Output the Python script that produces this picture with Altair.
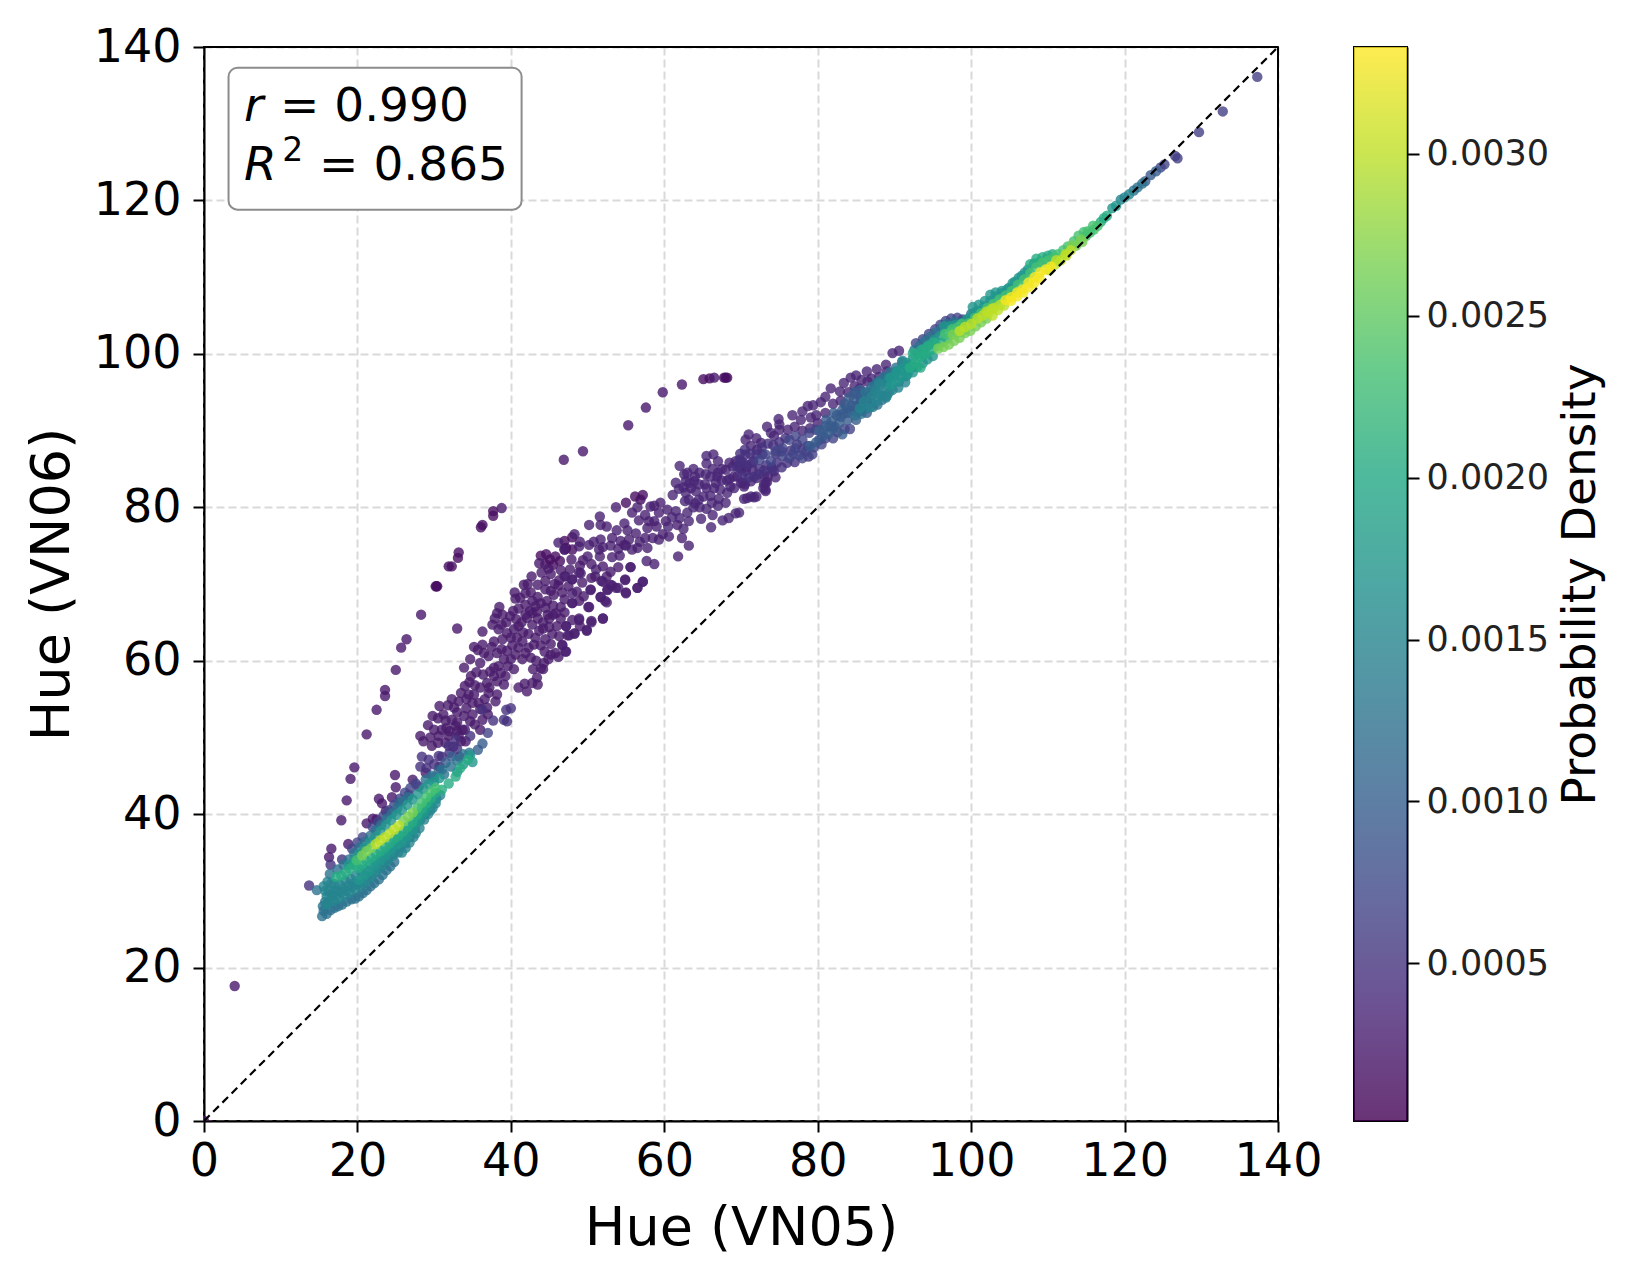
import altair as alt
import pandas as pd

arc_dark = [(0,0),(30.3,69.7),(30.4,69.7),(30.2,69.7),(36.1,77.4),(36.3,77.7),(37.7,78.9),(37.7,79.5),
            (65.9,96.8),(67.8,96.9),(68.0,96.9),(68.2,96.9),(65.1,96.7),(44.5,72.6),(45.1,73.2),(45.5,72.5),(44.6,73.9),
            (46.4,73.0),(45.8,73.6),(43.9,73.7),(47.0,74.5),(47.2,74.7),(48.0,74.5),(47.0,75.6),(48.0,76.1),
            (56.2,81.4),(56.9,81.0),(57.2,81.6),(55.0,80.6),(31.9,72.3),(32.3,72.3),(33.1,73.4),(33.2,74.1)]
arc_low = [(21.2,50.4),(22.5,53.6),(23.6,55.4),(23.6,56.2),(25.0,58.8),(25.7,61.7),(26.4,62.8),(28.3,66.0),
           (38.8,79.9),(33.0,64.2),(46.9,86.2),(49.4,87.3),(55.3,90.7),(57.6,93.0),(59.8,95.0),(62.3,96.0),
           (66.5,96.9),(19.6,46.1),(19.1,44.6),(18.6,41.8),(17.9,39.2),(24.9,45.1),(25.0,43.5),(22.8,42.0),
           (23.2,41.4),(24.5,42.2),(23.7,40.4),(22.5,39.3),(22.0,39.4),(21.2,38.8),(18.8,36.1),(16.6,35.5),
           (16.3,34.4),(4.0,17.6)]
cloud_a = [(36.3,63.8),(38.2,66.2),(37.9,65.5),(37.6,64.7),(38.4,64.1),(40.3,66.5),(40.5,68.9),(40.6,68.1),
           (41.7,69.9),(42.7,71.0),(42.6,68.9),(41.9,67.3),(43.2,67.1),(43.9,67.5),(45.2,69.1),(44.5,69.3),
           (45.6,68.6),(46.7,68.9),(47.1,71.0),(48.0,70.6),(48.9,71.5),(49.3,70.2),(50.4,69.3),(51.8,70.4),
           (53.0,69.9),(52.6,69.3),(53.7,69.5),(54.9,70.6),(55.0,68.9),(56.5,69.5),(57.2,70.3),(55.6,72.2),
           (51.7,68.3),(52.3,67.8),(48.0,67.5),(50.2,67.0),(48.9,65.5),(50.5,65.2),(52.0,65.5),(49.9,64.0),
           (47.2,64.5),(47.6,63.3),(48.3,63.5),(45.4,63.5),(44.5,62.8),(45.2,62.2),(46.7,62.0),(47.1,61.2),
           (45.8,61.0),(44.9,60.2),(44.3,59.7),(44.2,58.9),(43.4,57.8),(42.8,57.1),(42.1,56.0),(41.0,56.5),
           (43.2,63.0),(43.0,62.1),(43.7,63.9),(41.0,64.5),(40.4,64.1),(42.1,65.6),(42.8,66.2),(44.5,66.9),
           (41.0,61.7),(41.9,61.0),(40.6,60.8),(41.5,60.2),(42.6,60.4),(42.3,61.7),(38.9,62.8),(37.8,62.5),
           (36.3,62.1),(35.2,61.8),(35.7,61.4),(34.7,60.2),(33.9,59.1),(36.0,59.7),(37.1,60.6),(38.2,61.0),
           (37.8,59.1),(38.4,59.3),(37.3,58.6),(39.3,58.0),(40.4,58.9),(40.0,60.2),(39.1,60.2),(38.2,57.3),
           (39.1,56.9),(36.9,57.1),(34.6,57.2),(36.0,56.5),(35.2,55.6),(34.5,55.6),(37.1,55.8),(38.2,55.6),
           (38.0,54.7),(35.8,54.5),(36.9,53.9),(35.0,54.5),(33.2,54.7),(32.6,53.9),(30.7,54.1),(35.0,53.0),
           (33.9,52.8),(36.3,52.3),(32.3,52.3),(32.8,51.5),(34.7,52.1),(33.7,51.0),(31.0,51.0),(30.6,50.2),
           (29.2,51.6),(31.9,50.2),(33.2,50.2),(29.7,48.9),(28.2,50.2),(38.8,64.7),(39.5,63.6),(41.5,62.5),
           (40.0,63.0),(42.3,63.5),(42.8,64.7),(43.5,65.5),(44.2,65.0),(45.0,65.5),(44.7,67.8),(43.5,68.3),
           (42.8,67.8),(41.9,66.0),(41.0,66.8),(45.5,67.2),(46.5,67.0),(47.0,66.3),(46.0,64.5),(34.0,51.0),
           (35.3,51.7),(36.0,51.0),(33.0,52.0),(31.5,52.2),(30.5,52.5),(29.8,52.8),(32.0,50.8),(29.5,50.0),
           (28.6,49.5),(30.5,49.3),(31.5,49.3),(32.5,48.8),(33.5,49.5),(34.1,49.5),(27.2,44.5),(28.9,45.4),(30.7,46.2)]
cloud_a2 = [(30.0,51.0),(31.2,53.0),(31.8,54.2),(32.3,55.0),(33.0,53.3),(33.5,55.8),(34.0,56.7),(34.8,58.0),
            (34.2,53.8),(35.5,58.5),(35.3,56.8),(36.4,58.2),(36.6,55.0),(37.2,56.5),(37.0,53.0),(37.8,58.0),
            (38.7,58.4),(39.6,59.3),(36.5,61.0),(37.5,61.8),(38.8,61.5),(39.5,61.3),(40.2,62.0),(40.8,63.0),
            (41.6,63.7),(39.4,65.0),(39.9,65.8),(40.7,65.4),(41.4,65.0),(42.5,66.5),(43.4,66.4),(44.8,66.0),
            (45.9,66.2),(44.2,64.2),(45.0,64.4),(46.3,63.2),(43.9,62.0),(44.4,61.2),(45.2,60.8),(46.2,60.5),
            (43.3,60.0),(42.9,58.9),(43.5,56.9),(43.9,59.0),(41.8,57.0),(36.0,53.7),(34.2,55.0),(33.0,50.8),
            (31.6,51.2),(38.5,67.0),(38.9,66.0),(41.2,68.2),(41.9,68.8),(42.2,70.0),(43.5,69.9),(44.5,70.4),
            (45.7,70.0),(46.3,70.5),(47.5,69.7),(46.5,71.8),(47.7,71.9),(46.2,69.8),(48.6,69.0),(49.5,68.4),
            (50.5,70.8),(47.0,68.0),(48.9,67.8),(45.2,71.3),(44.0,71.5),(43.7,72.7),(44.9,72.0),(49.0,72.4),
            (47.9,73.2),(49.4,73.1),(50.5,72.6),(52.0,72.3),(53.0,71.6),(54.0,72.2),(52.5,71.0),(51.0,71.0),
            (48.0,65.3),(46.5,65.5),(45.5,66.0),(49.0,64.5)]
cloud_b = [(48.3,76.5),(47.0,74.5),(48.9,74.9),(50.2,77.7),(51.6,78.8),(51.7,77.7),(52.5,77.5),(53.7,80.0),
           (55.8,79.3),(56.7,78.3),(54.8,77.9),(58.2,80.1),(59.3,79.3),(59.5,80.6),(60.4,79.7),(58.7,78.2),
           (57.8,77.3),(56.3,76.6),(61.7,77.7),(60.6,76.2),(62.3,76.0),(63.2,75.0),(61.8,73.6),(59.3,75.8),
           (58.5,76.0),(57.8,74.7),(56.5,74.7),(55.4,75.8),(54.3,75.6),(53.2,76.0),(54.8,75.1),(53.2,73.5),
           (51.7,75.8),(51.6,73.6),(50.2,75.1),(50.0,73.6),(50.8,75.5),(57.7,73.0),(58.7,72.6),(55.6,72.2),
           (51.1,71.9),(49.1,71.4),(48.0,70.6),(47.0,71.0),(54.9,70.5),(57.2,70.3),(56.5,69.5),(55.0,68.8),
           (52.0,70.3),(53.2,69.8),(54.0,69.5),(52.6,69.2),(51.7,68.3),(52.5,67.6),(50.4,69.2),(48.0,68.8),
           (48.0,67.5),(50.1,67.0),(48.9,65.3),(50.5,65.0),(52.0,65.5),(49.9,63.9),(48.3,63.6),(47.2,64.5),
           (47.4,63.3),(46.7,62.1),(47.2,61.2),(52.0,74.8),(53.0,75.0),(54.0,74.6),(55.0,75.0),(55.8,74.5),
           (56.8,75.5),(57.5,76.0),(58.0,78.2),(59.0,77.5),(59.8,76.5),(60.2,78.2),(57.5,79.0),(58.7,80.2),
           (56.5,80.0),(55.2,77.0),(53.8,77.0),(54.2,73.7),(51.5,74.5),(49.0,75.5),(46.2,75.4)]
cloud_c = [(66.4,86.9),(65.5,85.7),(62.0,85.4),(63.8,85.0),(62.6,84.3),(61.5,83.2),(63.9,83.4),(65.4,84.3),
           (66.9,84.0),(66.7,83.2),(68.0,84.9),(68.9,85.3),(73.2,83.2),(73.2,82.3),(71.7,81.3),(70.8,81.2),
           (71.3,83.4),(70.2,83.2),(69.1,82.5),(68.2,81.9),(67.1,81.1),(68.0,80.6),(66.2,80.6),(65.1,81.4),
           (64.1,82.1),(62.8,81.9),(62.7,80.8),(61.1,81.6),(63.0,79.3),(63.2,78.2),(64.8,78.5),(66.3,79.0),
           (66.1,77.4),(67.6,78.3),(68.4,78.6),(69.3,79.2),(69.75,79.3),(70.4,81.1),(71.3,81.4),(72.0,81.4),
           (73.0,83.0),(72.9,82.5),(73.4,83.3),(73.2,82.1),(70.4,82.7),(70.0,83.2),(74.3,84.7),(70.6,84.7),
           (71.5,84.9),(62.5,82.6),(63.5,82.5),(64.5,81.0),(65.5,82.5),(66.5,82.5),(67.5,83.5),(68.5,83.7),
           (69.5,84.0),(68.6,82.7),(67.3,82.3),(70.5,83.0),(69.8,85.2),(64.0,80.5),(63.2,81.0),(66.0,81.5),
           (67.0,80.2),(65.5,79.8),(71.0,89.5),(72.0,89.0),(70.6,88.8),(72.6,88.4),(71.3,88.0),(72.1,87.5),
           (73.4,90.5),(73.9,89.7),(74.9,91.5),(75.0,90.8),(75.0,90.1),(74.3,89.3),(76.7,92.0),(77.8,91.4),
           (76.1,90.1),(78.0,92.5),(78.7,93.2),(79.4,93.3),(79.1,91.7),(80.4,93.7),(81.0,94.4),(81.7,95.5),
           (82.9,95.1),(83.4,96.2),(84.3,96.9),(85.0,97.2),(84.8,95.8),(86.4,97.7),(87.7,98.0),(88.9,98.6),
           (86.5,96.4),(89.75,100.1),(90.6,100.4),(60.5,77.5),(61.0,78.7),(61.5,79.5),(62.0,78.6),(62.5,77.2),
           (63.8,80.0),(64.6,80.0),(65.3,83.0),(67.5,85.0),(66.3,85.0),(64.6,84.5),(64.5,83.0),(63.0,84.5),
           (67.0,86.0),(65.5,86.7),(69.0,84.0),(70.0,85.0),(70.7,85.2),(72.0,83.8),(73.0,84.2),(74.5,83.9),
           (73.5,84.0),(77.0,90.5),(78.0,90.0),(79.0,90.3),(80.0,91.0),(79.8,92.0),(81.0,92.3),(82.0,93.5),
           (83.0,93.9),(84.0,95.0),(85.5,95.5),(87.0,96.8),(88.0,97.0),(89.0,97.7),(85.7,96.6),(66.0,84.0),
           (67.0,84.5),(68.2,83.5),(69.3,86.0),(68.5,85.8),(70.3,85.8),(64.0,84.0),(62.8,83.4),(61.9,82.4),(63.3,83.2)]
body_d = [(69.8,86.2),(70.6,86.9),(71.5,85.8),(72.8,86.9),(74.1,84.9),(70.0,86.0),(70.8,85.5),(71.6,86.0),
          (72.4,85.0),(73.0,84.8),(69.9,87.0),(70.5,87.5),(71.2,87.0),(72.0,86.9),(69.5,85.2),(70.2,84.1),
          (71.0,83.9),(71.7,84.0),(72.3,84.3),(73.3,85.5),(74.0,85.2),(74.7,85.8),(75.3,85.2),(76.0,85.8),
          (72.7,87.8),(73.5,88.3),(74.2,88.1),(75.0,88.5),(75.8,89.0),(76.5,87.4),(77.3,88.2),(78.0,87.6),
          (77.0,85.9),(78.8,86.6),(74.5,87.0),(75.3,87.3),(36.3,53.6),(37.7,52.2),(31.9,48.9),(30.6,47.6),
          (29.3,47.1),(28.2,46.2),(28.4,47.5),(32.8,49.7),(34.7,50.2),(28.0,43.6),(39.4,53.6),(40.0,53.8),
          (39.1,52.3),(39.5,52.1),(18.0,34.1),(13.7,30.7),(16.5,33.4),(29.0,46.0),(30.0,46.5),(31.0,47.5),
          (32.0,48.0),(33.0,48.5),(33.3,47.5)]
body_e = [(72.4,86.2),(73.2,86.9),(73.9,86.0),(74.5,87.3),(75.4,87.7),(76.3,88.8),(77.1,89.3),(78.0,88.8),
          (78.9,89.7),(76.3,86.4),(78.0,86.4),(79.3,86.9),(78.7,88.0),(75.4,86.7),(77.1,87.7),(80.2,88.8),
          (79.75,90.1),(37.0,50.6),(26.7,42.5),(92.8,101.4),(93.7,101.9),(94.5,102.6),(95.3,103.2),(96.0,103.8),
          (96.7,104.3),(97.4,104.6),(98.2,104.7),(98.9,104.5),(97.1,103.9),(124.7,124.3),(125.2,124.7),(76.8,87.0),
          (77.6,86.8),(78.5,87.3),(79.5,87.8),(80.5,88.2),(81.0,89.0),(82.0,89.0),(82.6,89.8),(83.5,90.2),
          (84.2,90.2),(22.0,38.3),(22.7,39.0),(23.4,39.8),(24.1,40.5),(24.8,41.2),(25.5,42.0),(26.2,42.8),
          (26.9,43.4),(27.6,44.0),(19.3,35.5),(20.0,36.3),(20.7,37.0)]
body_f = [(81.1,91.4),(80.8,90.1),(81.7,90.6),(83.2,89.5),(82.8,91.0),(82.1,92.3),(83.2,92.7),(83.9,91.4),
          (85.0,91.4),(86.4,92.3),(84.5,93.2),(85.6,93.6),(87.1,93.6),(84.1,94.3),(85.2,94.7),(122.7,122.5),
          (123.4,123.3),(124.1,123.8),(25.4,41.5),(36.3,49.2),(35.7,48.4),(32.3,47.5),(31.5,46.7),(30.6,45.8),
          (82.2,90.5),(83.0,91.8),(84.0,92.3),(85.0,92.5),(85.6,92.5),(86.0,93.0),(84.7,94.0),(85.5,94.6),
          (86.2,94.4),(87.2,95.2),(88.8,96.8),(86.5,95.0),(87.5,96.0),(79.0,88.0),(79.8,88.5),(80.6,89.2),
          (81.4,89.6),(82.0,90.2),(80.2,90.0),(81.0,90.6),(81.8,91.2),(82.5,92.0),(83.3,92.2),(83.8,93.0),
          (84.4,92.6),(85.0,93.2),(85.7,93.9),(86.4,93.8),(86.9,94.6),(83.5,93.5),(84.8,95.0),(85.5,95.3)]
tip_purple = [(126.6,125.8),(126.9,125.5),(129.7,128.9),(132.8,131.6),(137.3,136.1)]
edge_blue = [(15.4,26.7),(15.6,27.4),(16.0,27.0),(16.5,27.5),(15.5,28.0),(15.8,28.6),(17.0,27.8),(17.5,28.0),
             (18.0,28.2),(18.6,28.6),(19.2,28.9),(19.7,29.0),(20.2,29.3),(20.7,29.7),(21.2,30.1),(21.7,30.6),
             (22.2,31.0),(22.8,31.5),(23.3,32.1),(23.8,32.7),(24.3,33.2),(24.8,33.8),(29.7,45.0),(28.9,44.5),
             (97.8,104.2),(98.6,104.0),(99.3,104.4),(100.0,105.2),(100.6,105.5),(121.2,121.3),(121.7,121.7),(122.3,122.2),
             (16.4,32.2),(17.4,32.8),(18.2,33.4),(18.9,34.1),(19.6,34.9),(20.3,35.7),(21.0,36.4),(21.7,37.2),
             (22.4,37.9),(23.1,38.6),(23.8,39.4),(24.5,40.1),(25.2,40.8),(25.9,41.7),(26.6,42.2),(14.7,30.1),
             (92.6,100.5),(93.3,101.1),(94.0,101.7),(94.7,102.2),(95.4,102.8),(96.1,103.3),(96.8,103.9),
             (31.0,45.8),(32.2,46.2),(33.0,47.0),(33.8,47.8),(34.6,48.0),(30.0,44.8),(31.3,45.2),
             (84.9,92.0),(85.7,92.2),(86.4,92.9),(87.2,93.1),(87.8,93.4),(88.4,94.0),(89.0,94.5),(86.2,95.0),
             (87.0,95.7),(87.8,96.4),(88.6,97.0),(89.4,97.6),(90.2,98.2),(91.0,98.9)]
band_teal = [(16.2,28.4),(16.9,28.7),(17.6,29.0),(18.3,29.4),(19.0,29.8),(19.7,30.2),(20.4,30.6),(21.1,31.2),
             (21.8,31.8),(22.5,32.5),(23.2,33.2),(23.9,33.9),(24.6,34.6),(25.3,35.0),(25.8,35.0),(26.3,35.6),
             (26.8,36.3),(27.3,37.0),(27.6,37.5),(28.1,38.2),(28.7,39.3),(29.2,40.0),(29.8,40.8),(30.2,41.4),
             (16.0,29.3),(16.7,29.6),(17.4,30.0),(18.1,30.3),(18.8,30.7),(19.5,31.0),(86.0,93.8),(87.0,94.4),
             (88.0,95.0),(89.0,95.8),(86.8,93.0),(87.7,93.8),(88.5,94.6),(89.3,95.0),(85.5,92.9),(90.5,95.6),
             (91.4,96.3),(87.5,95.2),(88.3,96.0),(89.1,96.4),(90.0,97.2),(90.8,97.9),(91.5,98.4),(88.0,94.7),
             (88.9,94.3),(89.75,95.3),(88.0,96.2),(89.3,96.9),(90.6,96.4),(91.5,97.1),(90.2,97.7),(91.05,99.1),
             (91.9,98.6),(120.0,120.4),(120.6,120.8),(119.5,120.1),(15.6,30.6),(16.1,31.2),(16.6,31.0),(17.0,30.9),(15.8,30.0),
             (16.3,30.0),(17.0,30.0),(17.7,30.8),(18.4,31.3),(19.1,31.6),(19.8,32.0),(20.5,32.5),(15.9,28.2),
             (16.5,28.9),(17.2,29.3),(17.9,29.8),(18.6,30.0),(19.3,30.5),(20.0,30.9),(20.7,31.0),(21.3,31.8),
             (22.0,32.2),(22.7,33.0),(23.4,33.7),(24.0,34.2),(24.8,35.0),(25.5,35.7),(26.2,36.2),(26.8,37.0),
             (27.5,38.2),(28.2,39.3),(28.8,40.0),(29.5,40.5),(30.3,42.0),(30.8,42.5)]
band_sea = [(20.2,31.4),(20.9,32.0),(21.6,32.6),(22.3,33.3),(23.0,34.0),(23.7,34.7),(24.4,35.4),(25.1,36.0),
            (25.8,36.4),(26.5,37.1),(27.2,38.0),(27.9,39.0),(28.6,40.1),(29.2,41.0),(29.9,41.8),(18.9,33.4),
            (19.6,34.1),(20.2,34.8),(20.9,35.6),(21.6,36.3),(22.3,37.0),(23.0,37.8),(23.7,38.5),(24.4,39.2),
            (25.1,39.9),(25.8,40.5),(26.5,41.2),(27.2,41.9),(27.9,42.6),(28.6,43.3),(29.3,43.9),(30.0,44.2),
            (30.7,44.7),(89.5,96.9),(90.3,97.6),(91.0,98.1),(91.7,98.8),(92.4,99.4),(93.1,100.0),(93.8,100.6),
            (94.5,101.2),(95.2,101.8),(96.0,102.4),(89.5,95.9),(90.2,96.4),(91.0,97.0),(91.7,97.3),(92.4,97.6),
            (93.0,98.3),(93.7,98.8),(94.3,99.3),(95.0,99.7),(100.2,106.1),(101.0,106.4),(101.8,106.9),(102.5,107.7),
            (103.2,108.0),(104.0,108.2),(104.7,108.4),(105.4,109.2),(106.2,109.9),(107.0,110.6),(118.4,119.0),(118.9,119.3),
            (21.0,32.8),(21.7,33.4),(22.4,34.0),(23.1,34.6),(23.8,35.2),(24.5,35.8),(25.2,36.6),(25.9,37.1),
            (26.6,37.8),(27.3,38.6),(28.0,39.6),(28.7,40.4),(29.4,41.5),(96.5,103.6),(97.3,103.6),(98.0,103.8),
            (98.8,104.0),(99.6,104.6),(100.3,105.2),(101.0,105.6),(101.7,106.2),(102.5,106.9),(103.2,107.5),(104.0,107.9),
            (104.9,108.6),(105.7,109.4),(106.6,110.2),(107.4,111.0),(108.2,111.8),(109.0,112.0),(109.8,112.3),
            (33.0,45.5),(33.8,46.5),(34.7,47.7),(35.0,46.8),(92.5,98.3),(91.9,97.9),(93.8,99.9)]
band_green = [(17.2,31.8),(17.9,32.0),(18.5,32.4),(19.0,32.9),(19.6,33.4),(20.1,33.0),(20.6,33.5),(21.2,33.9),
              (21.8,34.3),(22.4,34.8),(23.0,35.2),(23.6,35.7),(24.2,36.2),(24.8,36.8),(25.4,37.2),(26.0,37.8),
              (26.6,38.4),(27.2,39.0),(27.8,39.9),(28.4,40.7),(29.0,41.4),(29.6,42.1),(30.2,42.8),(31.0,43.2),
              (31.9,44.0),(32.8,44.9),(33.4,46.0),(34.4,47.1),(92.0,98.2),(92.7,98.9),(93.4,99.6),(94.1,100.0),
              (94.8,100.5),(95.5,101.0),(96.2,101.5),(96.9,102.0),(107.7,111.7),(108.5,112.4),(109.3,112.6),(110.0,112.8),
              (110.6,113.0),(116.9,117.2),(117.3,117.7),(117.7,118.0),(92.4,100.1),(93.4,98.2),(93.5,100.5),(94.3,101.0),(95.1,101.5)]
band_lime = [(19.9,34.0),(27.8,40.8),(28.4,41.5),(29.0,42.2),(29.6,42.9),(30.2,43.4),(97.5,103.2),(98.3,103.5),
             (99.0,103.4),(99.7,104.0),(100.5,104.7),(101.3,105.3),(102.1,106.0),(102.9,106.5),(103.7,107.1),(104.5,107.6),
             (105.3,108.2),(106.1,109.0),(106.9,109.7),(107.7,110.5),(108.5,111.3),(109.3,111.9),(110.1,112.2),(110.9,112.6),
             (115.0,115.4),(115.5,115.8),(116.0,116.2),(116.5,116.7),(115.2,116.0),(115.9,116.7),(96.6,102.6),(97.3,102.8),
             (98.0,103.0),(98.8,103.9),(111.3,113.0),(112.0,113.5),(112.6,114.0),(113.4,114.7),(114.0,115.4),(114.7,115.9)]
band_bright = [(20.6,34.6),(21.2,35.2),(21.8,35.6),(26.0,39.1),(26.6,39.7),(27.2,40.2),(95.7,100.7),(96.4,100.9),
               (97.1,101.2),(97.8,101.7),(98.5,102.1),(99.2,102.7),(99.9,103.0),(100.6,103.6),(101.3,104.1),(102.0,104.6),
               (113.1,114.1),(113.7,114.1),(114.3,114.9),(114.5,114.6),(97.6,102.5),(98.4,102.8),(99.1,103.1)]
band_peak = [(22.4,36.1),(23.0,36.6),(23.6,37.0),(24.2,37.5),(24.8,38.0),(25.4,38.5),(98.5,103.0),(99.2,103.5),
             (100.0,103.9),(100.8,104.6),(101.5,105.0),(102.3,105.4),(103.0,106.0),(103.8,106.4),(102.8,105.0),(103.5,105.7),
             (104.3,106.3),(110.2,110.9),(110.9,111.6),(111.1,112.2),(111.7,112.2),(112.3,113.0),(112.4,112.8),(113.0,113.5),
             (102.0,105.5),(102.7,105.9)]
band_top = [(104.5,107.0),(105.2,107.4),(106.0,108.0),(106.7,108.4),(105.2,106.9),(106.0,107.5),(106.8,108.0),(107.5,108.7),
            (108.2,109.2),(108.9,109.9),(107.5,109.3),(108.3,110.0),(109.0,110.6),(109.7,111.0),(110.4,111.4)]

groups = [(0.00012, arc_dark), (0.00022, arc_low), (0.00024, cloud_a), (0.00024, cloud_a2), (0.00030, cloud_b),
          (0.00036, cloud_c), (0.00048, body_d), (0.00062, tip_purple), (0.00068, body_e), (0.00095, body_f),
          (0.00125, edge_blue), (0.00150, band_teal), (0.00175, band_sea), (0.00205, band_green),
          (0.00235, band_lime), (0.00265, band_bright), (0.00300, band_peak), (0.00328, band_top)]

x_ticks = [0, 20, 40, 60, 80, 100, 120, 140]
density_ticks = [0.0005, 0.0010, 0.0015, 0.0020, 0.0025, 0.0030]
density_range = [0.000013, 0.00333]
diagonal = [0, 140]
axis_max = [140]
viridis = ["#440154", "#482475", "#414487", "#355f8d", "#2a788e", "#21918c",
           "#22a884", "#44bf70", "#7ad151", "#bddf26", "#fde725"]

rows = [{"vn05": p[0], "vn06": p[1], "density": d} for d, pts in groups for p in pts]
points_df = pd.DataFrame(rows).sort_values("density", kind="stable")

SIDE = 1074
x_scale = alt.Scale(domain=[0, 140], nice=False, zero=False)
y_scale = alt.Scale(domain=[0, 140], nice=False, zero=False)

x_axis = alt.Axis(title="Hue (VN05)", values=x_ticks, titleFontSize=54, labelFontSize=46, titleFontWeight="normal",
                  tickSize=11, tickWidth=2, tickColor="black", domainColor="black", domainWidth=2,
                  labelColor="black", titleColor="black", labelPadding=7, titlePadding=17, labelFlush=False,
                  grid=True, gridColor="#d9d9d9", gridWidth=2, gridDash=[8, 4], format="d")
y_axis = alt.Axis(title="Hue (VN06)", values=x_ticks, titleFontSize=54, labelFontSize=46, titleFontWeight="normal",
                  tickSize=11, tickWidth=2, tickColor="black", domainColor="black", domainWidth=2,
                  labelColor="black", titleColor="black", labelPadding=12, titlePadding=14, labelFlush=False,
                  grid=True, gridColor="#d9d9d9", gridWidth=2, gridDash=[8, 4], format="d")

points = alt.Chart(points_df).mark_circle(size=108, opacity=0.8, stroke=None, clip=True).encode(
    x=alt.X("vn05:Q", scale=x_scale, axis=x_axis),
    y=alt.Y("vn06:Q", scale=y_scale, axis=y_axis),
    color=alt.Color("density:Q", scale=alt.Scale(scheme="viridis", domain=density_range), legend=None),
)
line = alt.Chart(pd.DataFrame({"a": diagonal, "b": diagonal})).mark_line(
    color="black", strokeWidth=2.2, strokeDash=[8, 5], clip=True
).encode(x=alt.X("a:Q", scale=x_scale), y=alt.Y("b:Q", scale=y_scale))

frame_df = pd.DataFrame({"m": axis_max})
frame_r = alt.Chart(frame_df).mark_rule(color="black", strokeWidth=2).encode(x=alt.X("m:Q", scale=x_scale))
frame_t = alt.Chart(frame_df).mark_rule(color="black", strokeWidth=2).encode(y=alt.Y("m:Q", scale=y_scale))

box_df = pd.DataFrame({"x": [3.2], "x2": [41.4], "y": [118.8], "y2": [137.3]})
box = alt.Chart(box_df).mark_rect(fill="white", stroke="#8c8c8c", strokeWidth=2, cornerRadius=9).encode(
    x=alt.X("x:Q", scale=x_scale), x2="x2:Q", y=alt.Y("y:Q", scale=y_scale), y2="y2:Q")


def note(text, x, y, size=47, style="normal"):
    return alt.Chart(pd.DataFrame({"x": [x], "y": [y], "t": [text]})).mark_text(
        align="left", baseline="alphabetic", fontSize=size, fontStyle=style, color="black"
    ).encode(x=alt.X("x:Q", scale=x_scale), y=alt.Y("y:Q", scale=y_scale), text="t:N")


labels = [note("r", 5.2, 130.4, style="italic"), note("= 0.990", 9.9, 130.4),
          note("R", 5.2, 122.6, style="italic"), note("2", 10.2, 125.2, size=33), note("= 0.865", 15.0, 122.6)]

main = alt.layer(points, line, frame_r, frame_t, box, *labels).properties(width=SIDE, height=SIDE)

bar = alt.Chart(pd.DataFrame({"lo": [density_range[0]], "hi": [density_range[1]]})).mark_rect(
    opacity=0.8,
    fill=alt.Gradient(gradient="linear", x1=0, x2=0, y1=1, y2=0,
                      stops=[alt.GradientStop(offset=i / 10, color=c) for i, c in enumerate(viridis)]),
).encode(
    x=alt.value(0), x2=alt.value(53),
    y=alt.Y("lo:Q", scale=alt.Scale(domain=density_range, nice=False, zero=False),
            axis=alt.Axis(orient="right", title="Probability Density", values=density_ticks, format=".4f",
                          titleFontSize=47, labelFontSize=35, titleFontWeight="normal", titleAngle=270,
                          tickSize=12, tickWidth=2, tickColor="black", domainColor="black", domainWidth=2,
                          labelColor="#222222", titleColor="black", labelPadding=7, titlePadding=56,
                          grid=False, labelFlush=False)),
    y2="hi:Q",
).properties(width=53, height=SIDE)

chart = alt.hconcat(main, bar, spacing=30).properties(
    padding={"left": 16, "top": 15, "right": 5, "bottom": 5}, background="white"
).configure(font="DejaVu Sans").configure_view(stroke="black", strokeWidth=2)

chart.save("out.html", embed_options={"renderer": "svg", "actions": False})
